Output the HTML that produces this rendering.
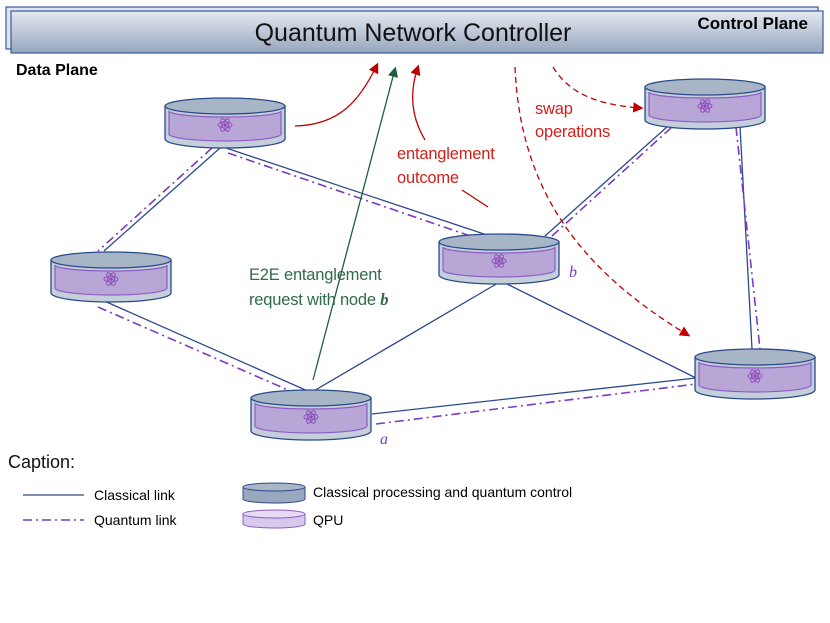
<!DOCTYPE html>
<html><head><style>
body{margin:0;background:#fff;width:830px;height:623px;overflow:hidden}
svg{display:block;font-family:"Liberation Sans",sans-serif}
</style></head><body>
<svg width="830" height="623" viewBox="0 0 830 623" xmlns="http://www.w3.org/2000/svg">
<defs>
<linearGradient id="bar" x1="0" y1="0" x2="0" y2="1"><stop offset="0" stop-color="#e4e9f1"/><stop offset="1" stop-color="#97a6bd"/></linearGradient>
<marker id="ar" markerWidth="8" markerHeight="8" refX="6" refY="4" orient="auto"><path d="M0,0 L8,4 L0,8 z" fill="#c00000"/></marker>
<marker id="ag" markerWidth="8" markerHeight="8" refX="6" refY="4" orient="auto"><path d="M0,0 L8,4 L0,8 z" fill="#1f5e3e"/></marker>
<g id="node">
<path d="M2,9 v33 a60,9 0 0 0 120,0 v-33 z" fill="#c5cedb" stroke="#2b4a8a" stroke-width="1.3"/>
<ellipse cx="62" cy="9" rx="60" ry="8" fill="#a8b5c7" stroke="#2b4a8a" stroke-width="1.3"/>
<path d="M6,14 v23 a56,7 0 0 0 112,0 v-23 a56,6 0 0 1 -112,0 z" fill="#b7a6d6" stroke="#8c5ec4" stroke-width="1.2"/>
<g transform="translate(62,28)" fill="none" stroke="#8c4cb8" stroke-width="0.9">
<ellipse rx="7" ry="3"/><ellipse rx="7" ry="3" transform="rotate(60)"/><ellipse rx="7" ry="3" transform="rotate(-60)"/><circle r="1.3" fill="#8c4cb8"/>
</g>
</g>
</defs>
<rect x="6" y="7" width="812" height="42" fill="#dfe5ee" stroke="#3a5a9a" stroke-width="1.2"/>
<rect x="11" y="11" width="812" height="42" fill="url(#bar)" stroke="#3a5a9a" stroke-width="1.2"/>
<text x="413" y="41" font-size="25" text-anchor="middle" fill="#111">Quantum Network Controller</text>
<text x="808" y="29" font-size="17" font-weight="bold" text-anchor="end">Control Plane</text>
<text x="16" y="75" font-size="16" font-weight="bold">Data Plane</text>

<g stroke="#2b4a8a" stroke-width="1.3" fill="none">
<line x1="220" y1="148" x2="104" y2="251"/>
<line x1="226" y1="148" x2="490" y2="236"/>
<line x1="102" y1="300" x2="310" y2="392"/>
<line x1="312" y1="392" x2="498" y2="283"/>
<line x1="505" y1="283" x2="696" y2="378"/>
<line x1="372" y1="414" x2="696" y2="378"/>
<line x1="545" y1="236" x2="668" y2="126"/>
<line x1="740" y1="126" x2="752" y2="349"/>
</g>
<g stroke="#7a3cc0" stroke-width="1.6" fill="none" stroke-dasharray="9,4,2,4">
<line x1="212" y1="148" x2="98" y2="251"/>
<line x1="228" y1="153" x2="482" y2="240"/>
<line x1="98" y1="307" x2="304" y2="397"/>
<line x1="376" y1="424" x2="696" y2="384"/>
<line x1="552" y1="236" x2="672" y2="127"/>
<line x1="736" y1="127" x2="760" y2="349"/>
</g>

<use href="#node" x="163" y="97"/>
<use href="#node" x="49" y="251"/>
<use href="#node" x="437" y="233"/>
<use href="#node" x="643" y="78"/>
<use href="#node" x="693" y="348"/>
<use href="#node" x="249" y="389"/>

<path d="M295,126 C340,125 360,100 377,65" stroke="#c00000" stroke-width="1.3" fill="none" marker-end="url(#ar)"/>
<path d="M425,140 C410,115 410,90 418,67" stroke="#c00000" stroke-width="1.3" fill="none" marker-end="url(#ar)"/>
<path d="M313,380 L395,69" stroke="#1f5e3e" stroke-width="1.3" fill="none" marker-end="url(#ag)"/>
<path d="M515,67 C520,190 580,270 688,335" stroke="#c00000" stroke-width="1.3" fill="none" stroke-dasharray="6,4" marker-end="url(#ar)"/>
<path d="M553,67 C570,95 600,105 641,108" stroke="#c00000" stroke-width="1.3" fill="none" stroke-dasharray="6,4" marker-end="url(#ar)"/>
<path d="M462,190 L488,207" stroke="#c00000" stroke-width="1.3" fill="none"/>

<g font-size="16.5" fill="#d0201c" letter-spacing="-0.2">
<text x="535" y="114">swap</text><text x="535" y="137">operations</text>
<text x="397" y="159">entanglement</text><text x="397" y="183">outcome</text>
</g>
<g font-size="16.5" fill="#2f6b4a" letter-spacing="-0.2">
<text x="249" y="280">E2E entanglement</text>
<text x="249" y="305">request with node <tspan font-family="Liberation Serif" font-style="italic" font-weight="bold">b</tspan></text>
</g>
<text x="569" y="277" font-size="16" fill="#7a3cc0" font-style="italic" font-family="Liberation Serif">b</text>
<text x="380" y="444" font-size="16" fill="#7a3cc0" font-style="italic" font-family="Liberation Serif">a</text>

<text x="8" y="468" font-size="18" fill="#111">Caption:</text>
<line x1="23" y1="495" x2="84" y2="495" stroke="#2b4a8a" stroke-width="1.3"/>
<text x="94" y="500" font-size="14">Classical link</text>
<line x1="23" y1="520" x2="84" y2="520" stroke="#7a3cc0" stroke-width="1.6" stroke-dasharray="9,4,2,4"/>
<text x="94" y="525" font-size="14">Quantum link</text>
<path d="M243,487 v12 a31,4 0 0 0 62,0 v-12 z" fill="#9aa8bf" stroke="#2b4a8a"/>
<ellipse cx="274" cy="487" rx="31" ry="4" fill="#aab7c9" stroke="#2b4a8a"/>
<path d="M243,514 v10 a31,4 0 0 0 62,0 v-10 z" fill="#d9c8ee" stroke="#8c5ec4"/>
<ellipse cx="274" cy="514" rx="31" ry="4" fill="#e6daf5" stroke="#8c5ec4"/>
<text x="313" y="497" font-size="14">Classical processing and quantum control</text>
<text x="313" y="525" font-size="14">QPU</text>
</svg>
</body></html>
